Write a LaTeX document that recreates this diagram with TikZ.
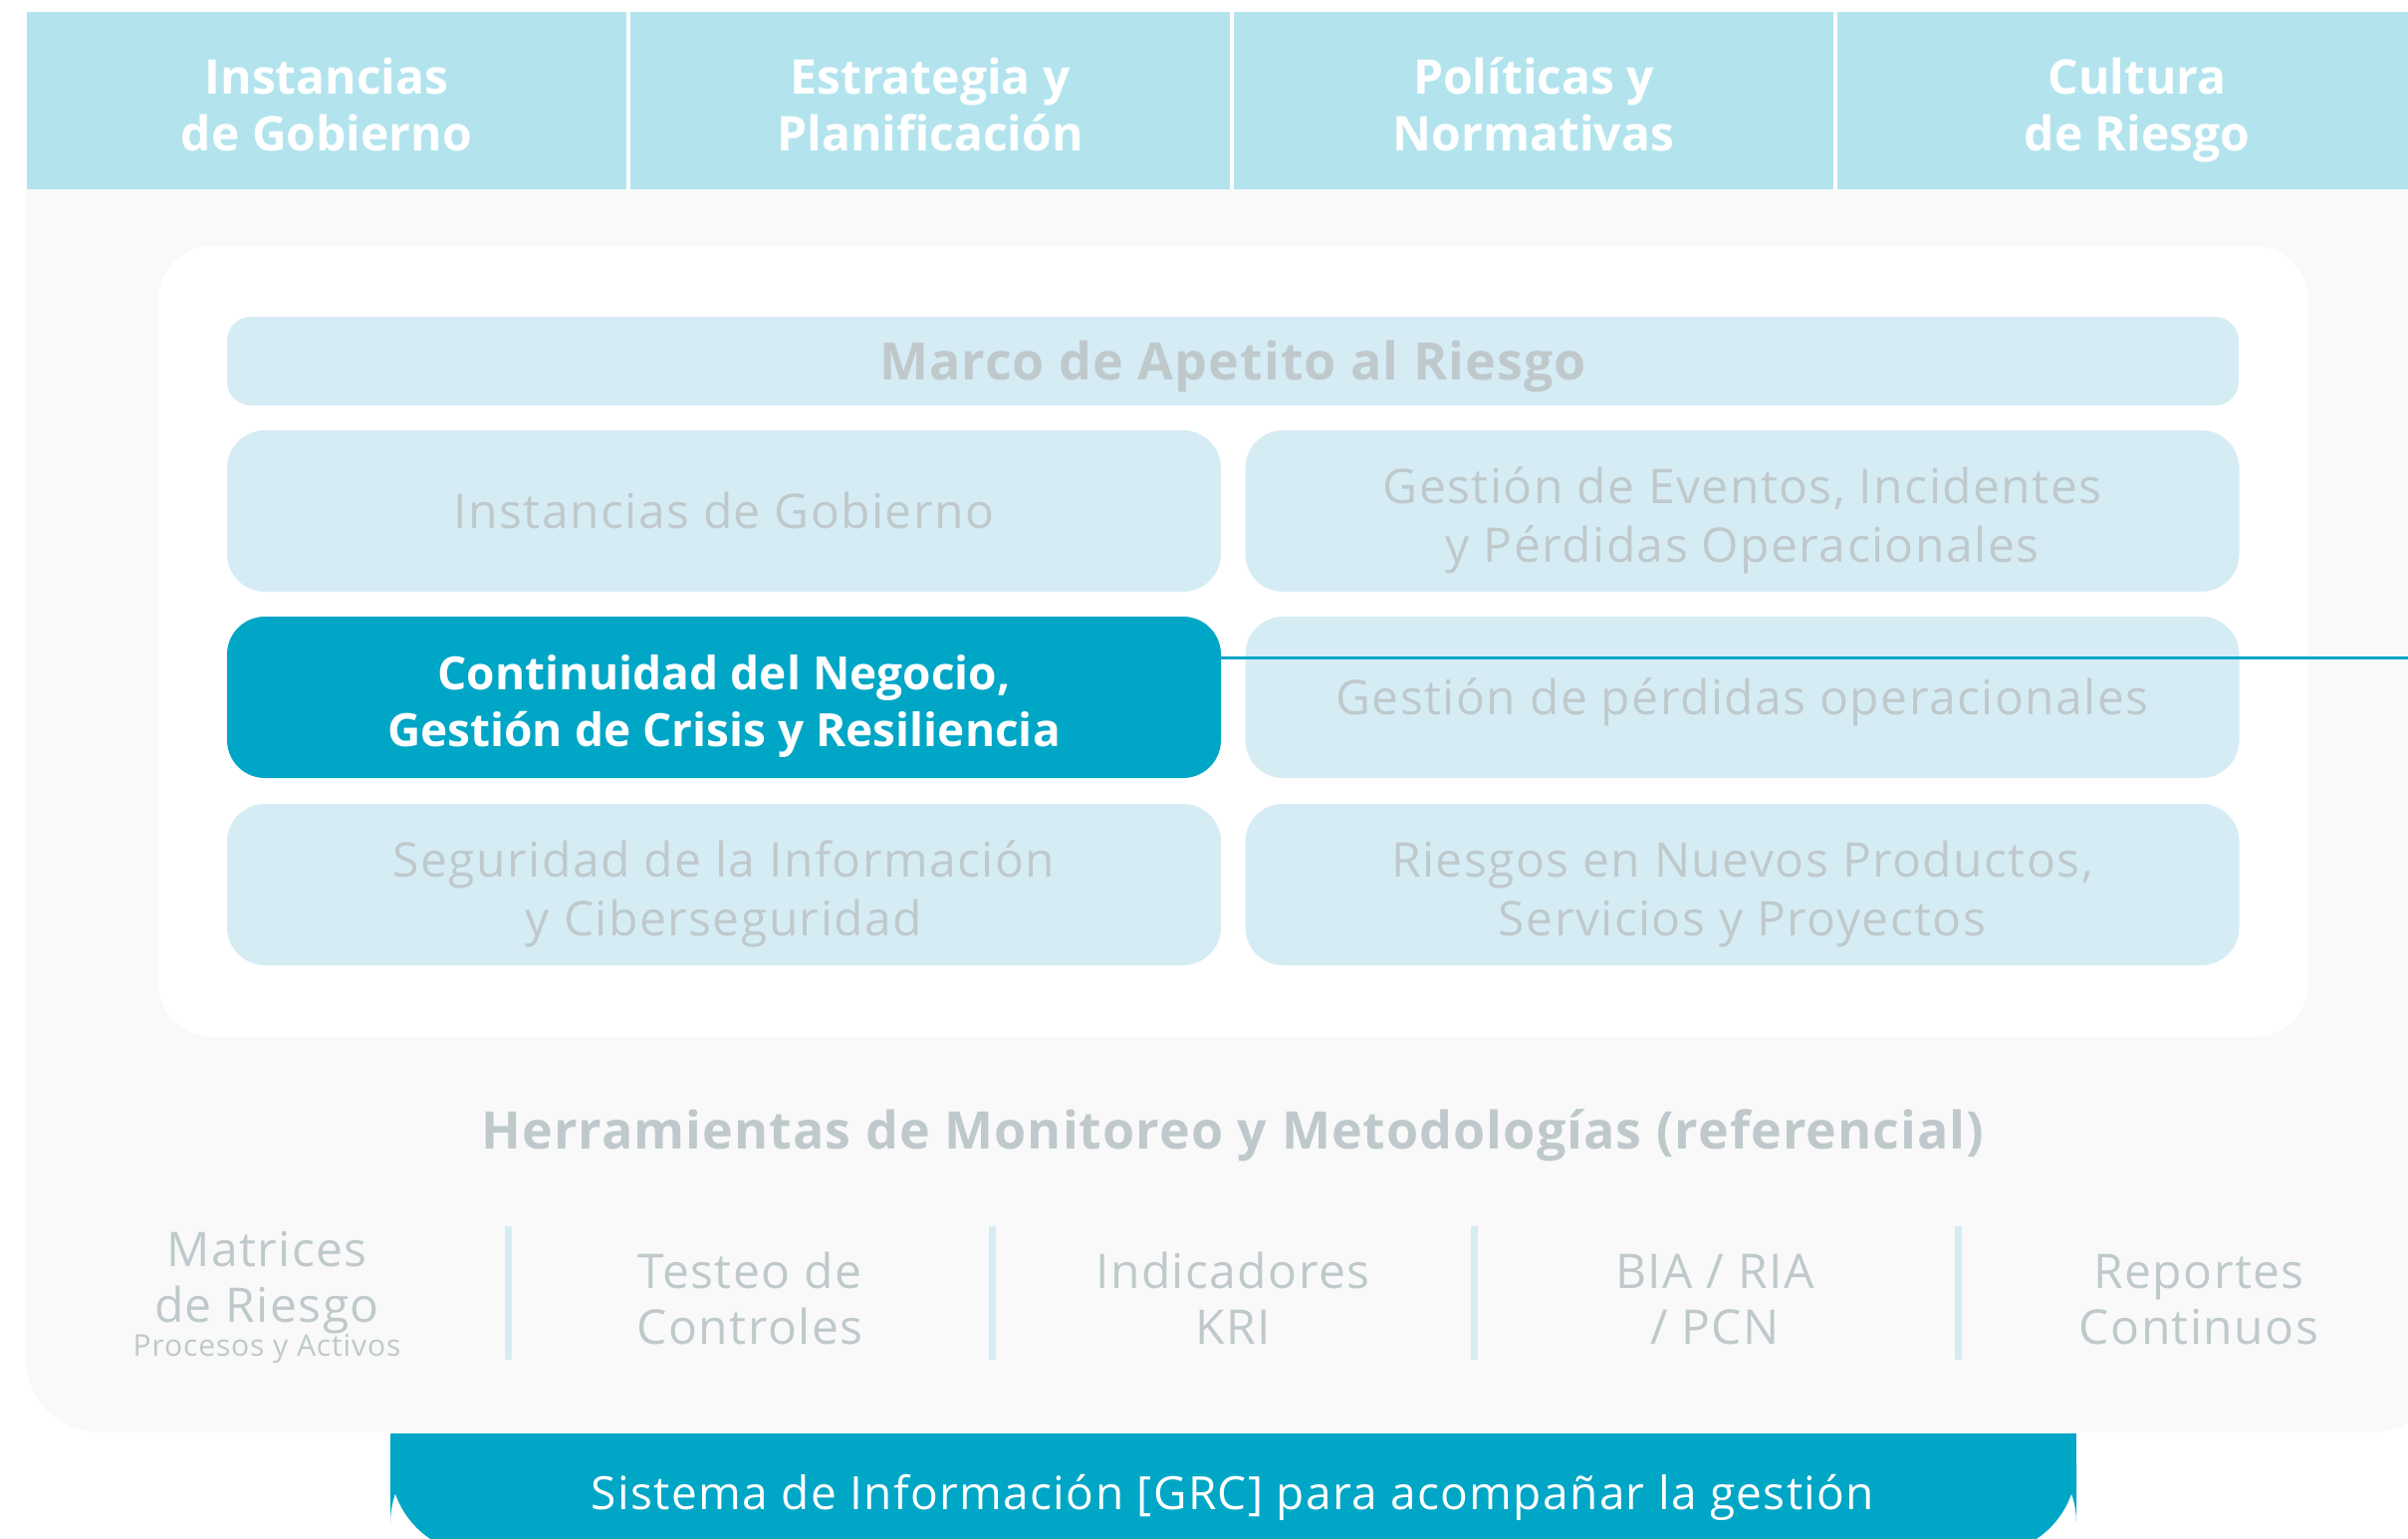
\documentclass[tikz,border=0pt]{standalone}
\usepackage{fontspec}
\setmainfont{Open Sans}
\newfontfamily\spacedfont[LetterSpace=3]{Open Sans}
\newfontfamily\heavyfont[LetterSpace=2]{Open Sans}
\usetikzlibrary{positioning}

\definecolor{headcyan}{HTML}{B3E4EE}
\definecolor{panelgray}{HTML}{F9F9F9}
\definecolor{boxblue}{HTML}{D6ECF4}
\definecolor{mutedtext}{HTML}{BFC9CC}
\definecolor{grcteal}{HTML}{00A6C6}

% lines always one baselineskip apart, strut centres a line on its capitals
\setlength{\lineskiplimit}{-\maxdimen}
\newcommand{\capstrut}{\vrule width 0pt height \dimexpr\fontcharht\font`H+0.3em\relax depth 0.3em}
\newcommand{\topstrut}{\vrule width 0pt height \dimexpr\fontcharht\font`H+0.3em+4.5pt\relax}
\newcommand{\twolines}[2]{\topstrut#1\\#2\capstrut}

\begin{document}
\begin{tikzpicture}[
  x=0.5pt, y=-0.5pt,
  struts/.style={execute at begin node=\capstrut},
  headbox/.style={struts, fill=headcyan, minimum width=301pt, minimum height=89pt, inner sep=0pt,
    text=white, font=\fontsize{24}{28.5}\selectfont\bfseries, align=center},
  areabox/.style={struts, fill=boxblue, rounded corners=19pt, minimum width=499pt, minimum height=81pt,
    inner sep=0pt, text=mutedtext, font=\spacedfont\fontsize{24}{29.5}\selectfont, align=center},
  focusbox/.style={areabox, fill=grcteal, text=white, font=\fontsize{23}{28.5}\selectfont\bfseries},
  titletext/.style={struts, inner sep=0pt, text=mutedtext, font=\heavyfont\fontsize{26}{30}\selectfont\bfseries},
  tooltext/.style={struts, inner sep=0pt, text=mutedtext, font=\spacedfont\fontsize{24}{28}\selectfont, align=center},
  sepline/.style={draw=boxblue, line width=3.5pt}
]

\useasboundingbox (0,0) rectangle (2418,1544);

% background panels
\fill[panelgray] (26,190) rectangle (2456,400);
\fill[panelgray, rounded corners=37pt] (26,190) rectangle (2456,1438);
\fill[white, rounded corners=27pt] (159,247) rectangle (2318,1041);

% header
\foreach \i/\ta/\tb in {1/Instancias/de Gobierno, 2/Estrategia y/Planificación,
                        3/Políticas y/Normativas, 4/Cultura/de Riesgo}
  \node[headbox] (head\i) at ({328+(\i-1)*606},101) {\twolines{\ta}{\tb}};

% marco
\node[areabox, titletext, minimum width=1010pt, minimum height=44.5pt, rounded corners=12pt]
  (marco) at (1238,362.5) {Marco de Apetito al Riesgo};

% areas
\node[areabox] (gobierno) at (727,513) {Instancias de Gobierno};
\node[areabox] (eventos) at (1749.5,513) {\twolines{Gestión de Eventos, Incidentes}{y Pérdidas Operacionales}};
\node[focusbox] (continuidad) at (727,700) {\twolines{Continuidad del Negocio,}{Gestión de Crisis y Resiliencia}};
\node[areabox] (perdidas) at (1749.5,700) {Gestión de pérdidas operacionales};
\node[areabox] (seguridad) at (727,888) {\twolines{Seguridad de la Información}{y Ciberseguridad}};
\node[areabox] (productos) at (1749.5,888) {\twolines{Riesgos en Nuevos Productos,}{Servicios y Proyectos}};

\coordinate (linkend) at (2418,660);
\draw[grcteal, line width=1.5pt] (continuidad.east |- linkend) -- (linkend);

% herramientas
\node[titletext] (tools) at (1238,1135) {Herramientas de Monitoreo y Metodologías (referencial)};

\foreach \x in {510,996,1480,1966}
  \draw[sepline] (\x,1231) -- (\x,1365);

\node[tooltext] (matrices) at (268,1277.5) {\twolines{Matrices}{de Riesgo}};
\node[tooltext, font=\spacedfont\fontsize{15}{17}\selectfont] (procesos) at (268,1351) {Procesos y Activos};
\node[tooltext] (testeo) at (753,1300) {\twolines{Testeo de}{Controles}};
\node[tooltext] (kri) at (1238,1300) {\twolines{Indicadores}{KRI}};
\node[tooltext] (bia) at (1722,1300) {\twolines{BIA / RIA}{/ PCN}};
\node[tooltext] (reportes) at (2208,1300) {\twolines{Reportes}{Continuos}};

% sistema GRC
\fill[grcteal] (392,1439) rectangle (2085,1500);
\fill[grcteal, rounded corners=45pt] (392,1439) rectangle (2085,1560);
\node[struts, text=white, font=\spacedfont\fontsize{23}{28}\selectfont] (grc) at (1238,1499)
  {Sistema de Información [GRC] para acompañar la gestión};

\end{tikzpicture}
\end{document}
